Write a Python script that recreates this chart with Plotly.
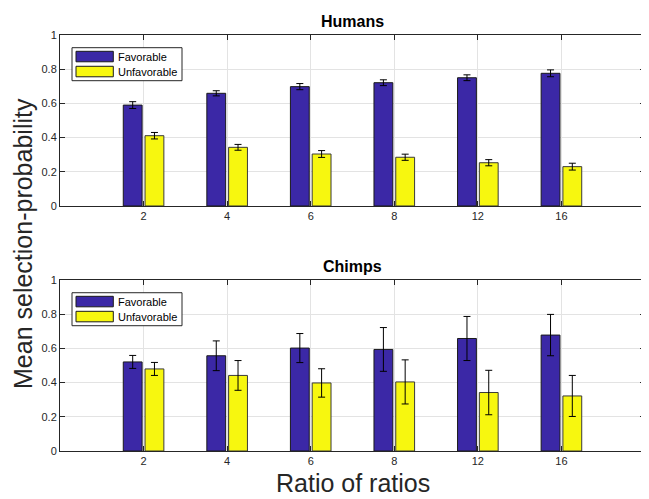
import plotly.graph_objects as go
from plotly.subplots import make_subplots

categories = ["2", "4", "6", "8", "12", "16"]

humans_fav = [0.590, 0.659, 0.698, 0.721, 0.750, 0.776]
humans_fav_err = [0.020, 0.015, 0.018, 0.017, 0.017, 0.020]
humans_unfav = [0.411, 0.343, 0.304, 0.285, 0.253, 0.230]
humans_unfav_err = [0.019, 0.017, 0.020, 0.018, 0.018, 0.020]

chimps_fav = [0.521, 0.557, 0.602, 0.594, 0.658, 0.678]
chimps_fav_err = [0.038, 0.087, 0.085, 0.128, 0.129, 0.121]
chimps_unfav = [0.480, 0.442, 0.398, 0.404, 0.342, 0.322]
chimps_unfav_err = [0.038, 0.087, 0.083, 0.129, 0.130, 0.120]

series_names = ["Favorable", "Unfavorable"]
y_ticks = [0, 0.2, 0.4, 0.6, 0.8, 1]
y_ticktext = ["0", "0.2", "0.4", "0.6", "0.8", "1"]

FAV_COLOR = "#3b28a6"
UNFAV_COLOR = "#f7f70f"
AX_COLOR = "#262626"
FONT = "Liberation Sans, Arial, sans-serif"

# page body has an 8px margin; figure is sized so the plot sits where the reference has it
W, H = 641, 491
ML, MR, MT, MB = 52, 4, 27, 48
PW = W - ML - MR          # 585
AXH = 171                 # height of each axes in pixels

fig = make_subplots(rows=2, cols=1, vertical_spacing=0.178,
                    subplot_titles=("<b>Humans</b>", "<b>Chimps</b>"))

def add_pair(fav, fav_err, unfav, unfav_err, row):
    fig.add_trace(go.Bar(
        x=categories, y=fav, name=series_names[0], showlegend=False,
        marker=dict(color=FAV_COLOR, line=dict(color="#1a1a1a", width=1)),
        error_y=dict(type="data", array=fav_err, color="#000000", thickness=1, width=3.5),
    ), row=row, col=1)
    fig.add_trace(go.Bar(
        x=categories, y=unfav, name=series_names[1], showlegend=False,
        marker=dict(color=UNFAV_COLOR, line=dict(color="#3a3a3a", width=1)),
        error_y=dict(type="data", array=unfav_err, color="#000000", thickness=1, width=3.5),
    ), row=row, col=1)

add_pair(humans_fav, humans_fav_err, humans_unfav, humans_unfav_err, 1)
add_pair(chimps_fav, chimps_fav_err, chimps_unfav, chimps_unfav_err, 2)

axis_common = dict(
    showline=True, linecolor=AX_COLOR, linewidth=1, mirror="ticks",
    ticks="inside", ticklen=5, tickcolor=AX_COLOR,
    showgrid=True, gridcolor="#e3e3e3", gridwidth=1,
    tickfont=dict(family=FONT, size=11, color=AX_COLOR),
    zeroline=False,
)
for r in (1, 2):
    fig.update_xaxes(range=[-1, 6], row=r, col=1, **axis_common)
    fig.update_yaxes(range=[0, 1], tickvals=y_ticks, ticktext=y_ticktext,
                     row=r, col=1, **axis_common)

for ann in fig.layout.annotations:
    ann.font = dict(family=FONT, size=16, color="#000000")
    ann.yshift = 3

# custom legend boxes (MATLAB style wide swatches)
def fx(px):
    return px / PW

def fy(px):
    return 1 - px / AXH

for xs, ys in (("x domain", "y domain"), ("x2 domain", "y2 domain")):
    fig.add_shape(type="rect", xref=xs, yref=ys, x0=fx(12), x1=fx(122), y0=fy(12.7), y1=fy(45.7),
                  line=dict(color=AX_COLOR, width=1), fillcolor="white", layer="above")
    for i, (name, col) in enumerate(zip(series_names, [FAV_COLOR, UNFAV_COLOR])):
        top = 16.3 + 15 * i
        fig.add_shape(type="rect", xref=xs, yref=ys, x0=fx(16), x1=fx(53.3),
                      y0=fy(top), y1=fy(top + 10.5),
                      line=dict(color="#1a1a1a", width=1), fillcolor=col, layer="above")
        fig.add_annotation(text=name, xref=xs, yref=ys, x=fx(56), y=fy(top + 5.3),
                           xanchor="left", yanchor="middle", showarrow=False,
                           font=dict(family=FONT, size=11, color="#000000"))

fig.update_layout(
    width=W, height=H,
    margin=dict(l=ML, r=MR, t=MT, b=MB),
    plot_bgcolor="white", paper_bgcolor="white",
    barmode="group", bargap=0.479, bargroupgap=0.135,
    showlegend=False,
    font=dict(family=FONT),
)

fig.add_annotation(text="Mean selection-probability", xref="paper", yref="paper",
                   x=0, y=0.5, xshift=-(ML - 15), yshift=-1, textangle=-90, showarrow=False,
                   xanchor="center", yanchor="middle",
                   font=dict(family=FONT, size=25, color=AX_COLOR))
fig.add_annotation(text="Ratio of ratios", xref="paper", yref="paper",
                   x=0.5, y=0, yshift=-MB, showarrow=False,
                   xanchor="center", yanchor="bottom",
                   font=dict(family=FONT, size=25, color=AX_COLOR))

fig.write_html("out.html")
